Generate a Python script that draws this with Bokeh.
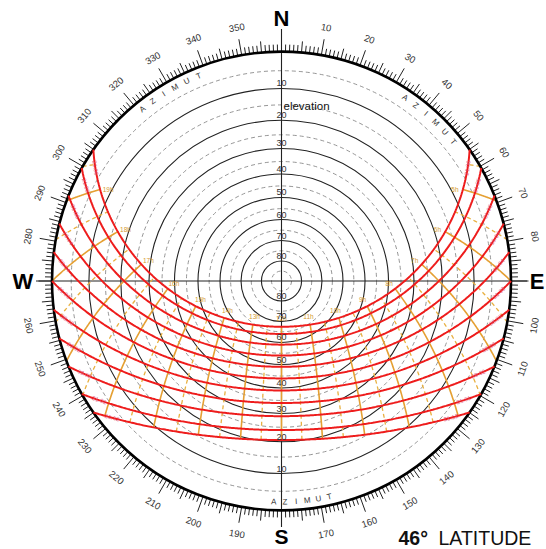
import numpy as np
from bokeh.plotting import figure
from bokeh.models import Range1d
from bokeh.embed import file_html
from bokeh.resources import INLINE
from bokeh.core.properties import value

# ---------------- data ----------------
LATITUDE = 46
declinations = [23.44, 20.0, 15.0, 10.0, 5.0, 0.0, -5.0, -10.0, -15.0, -20.0, -23.44]
date_labels = ["21.06", "21.05", "01.05", "16.04", "03.04", "21.03",
               "08.03", "23.02", "09.02", "21.01", "21.12"]
hours_full = [5, 6, 7, 8, 9, 10, 11, 12, 13, 14, 15, 16, 17, 18, 19]
hours_half = [4.5, 5.5, 6.5, 7.5, 8.5, 9.5, 10.5, 11.5, 12.5, 13.5, 14.5,
              15.5, 16.5, 17.5, 18.5, 19.5]
elev_solid = [10, 20, 30, 40, 50, 60, 70, 80]
elev_dashed = [5, 15, 25, 35, 45, 55, 65, 75, 85]
elev_labels = ["10", "20", "30", "40", "50", "60", "70", "80"]
az_label_values = [a for a in range(10, 360, 10) if a not in (90, 180, 270)]
azimut_word = ["A", "Z", "I", "M", "U", "T"]

# ---------------- geometry ----------------
R = 229.5
phi = np.radians(LATITUDE)
FONT = "Liberation Sans"


def proj(dec_deg, h_deg):
    d = np.radians(dec_deg)
    H = np.radians(h_deg)
    e = -np.cos(d) * np.sin(H)
    n = np.cos(phi) * np.sin(d) - np.sin(phi) * np.cos(d) * np.cos(H)
    u = np.sin(phi) * np.sin(d) + np.cos(phi) * np.cos(d) * np.cos(H)
    return R * e / (1 + u), R * n / (1 + u)


def rad_of_el(el):
    return R * np.tan(np.radians((90 - np.asarray(el, dtype=float)) / 2))


p = figure(width=546, height=549, x_range=Range1d(-281, 265), y_range=Range1d(-268.5, 280.5),
           output_backend="svg", toolbar_location=None, x_axis_type=None, y_axis_type=None,
           min_border=0)
p.grid.visible = False
p.outline_line_color = None
p.background_fill_color = "white"
p.border_fill_color = "white"

# elevation circles
rd = rad_of_el(elev_dashed)
p.circle(x=[0] * len(rd), y=[0] * len(rd), radius=list(rd), fill_color=None,
         line_color="#8a8a8a", line_dash="4 3", line_width=0.9)
rs = rad_of_el(elev_solid)
p.circle(x=[0] * len(rs), y=[0] * len(rs), radius=list(rs), fill_color=None,
         line_color="#222222", line_width=1.1)

# azimuth ticks
x0s, y0s, x1s, y1s = [], [], [], []
for a in range(360):
    L = 16 if a % 10 == 0 else (11 if a % 5 == 0 else 7)
    t = np.radians(a)
    x0s.append(R * np.sin(t)); y0s.append(R * np.cos(t))
    x1s.append((R + L) * np.sin(t)); y1s.append((R + L) * np.cos(t))
p.segment(x0=x0s, y0=y0s, x1=x1s, y1=y1s, line_color="#222222", line_width=1)

# cross axes
p.line([-243, 247], [0, 0], line_color="#222222", line_width=1.1)
p.line([0, 0], [252, -246], line_color="#222222", line_width=1.1)

# hour lines
def hour_line(h):
    H = (h - 12) * 15.0
    dec_h = np.degrees(np.arctan(-np.cos(np.radians(H)) / np.tan(phi)))
    dmin = max(-23.44, dec_h)
    if dmin >= 23.44:
        return None
    ds = np.linspace(dmin, 23.44, 80)
    return proj(ds, H)

for h in hours_half:
    r = hour_line(h)
    if r is not None:
        p.line(list(r[0]), list(r[1]), line_color="#E8B040", line_width=1.3, line_dash="4 3")
for h in hours_full:
    r = hour_line(h)
    if r is not None:
        p.line(list(r[0]), list(r[1]), line_color="#E5A033", line_width=1.6)

# outer horizon circle
p.circle(x=[0], y=[0], radius=[R], fill_color=None, line_color="black", line_width=2.6)

# date lines
for d in declinations:
    Hs = np.degrees(np.arccos(-np.tan(phi) * np.tan(np.radians(d))))
    Hh = np.linspace(-Hs, Hs, 300)
    xs, ys = proj(d, Hh)
    p.line(list(xs), list(ys), line_color="#EE1C1C", line_width=2.0)

# date labels near horizon ends
lx, ly, la, lt = [], [], [], []
for d, lab in zip(declinations, date_labels):
    dr = np.radians(d)
    target = np.sin(np.radians(3.0))
    cH = (target - np.sin(phi) * np.sin(dr)) / (np.cos(phi) * np.cos(dr))
    H3 = np.degrees(np.arccos(cH))
    for sgn in (-1, 1):
        Hc = sgn * H3
        xa, ya = proj(d, Hc - 1)
        xb, yb = proj(d, Hc + 1)
        xc, yc = proj(d, Hc)
        ang = np.arctan2(yb - ya, xb - xa)
        if ang > np.pi / 2:
            ang -= np.pi
        if ang < -np.pi / 2:
            ang += np.pi
        lx.append(float(xc)); ly.append(float(yc)); la.append(float(ang)); lt.append(lab)
p.text(x=lx, y=ly, text=lt, angle=la, text_font=value(FONT), text_font_size="6px",
       text_color="#D8507A", text_align="center", text_baseline="middle", text_alpha=0.85)

# hour labels at the June end, nudged toward the celestial pole
pole_y = R * np.cos(phi) / (1 + np.sin(phi))
hx, hy, ht = [], [], []
for h in hours_full:
    xj, yj = proj(23.44, (h - 12) * 15.0)
    vx, vy = 0 - xj, pole_y - yj
    nrm = np.hypot(vx, vy)
    hx.append(float(xj + 8 * vx / nrm)); hy.append(float(yj + 8 * vy / nrm)); ht.append(f"{h}h")
p.text(x=hx, y=hy, text=ht, text_font=value(FONT), text_font_size="6.5px",
       text_color="#D49A30", text_align="center", text_baseline="middle")

# elevation labels
ex, ey, et = [], [], []
for el, lab in zip(elev_solid, elev_labels):
    r = float(rad_of_el(el))
    ex += [0, 0]; ey += [r + 5, -r + 5]; et += [lab, lab]
p.text(x=ex, y=ey, text=et, text_font=value(FONT), text_font_size="9px",
       text_color="#333333", text_align="center", text_baseline="middle")
p.text(x=[2], y=[175.5], text=["elevation"], text_font=value(FONT), text_font_size="11.5px",
       text_color="#111111", text_align="left", text_baseline="middle")

# azimuth labels
ax_, ay_, aa_, at_ = [], [], [], []
for a in az_label_values:
    t = np.radians(a)
    ax_.append(257 * np.sin(t)); ay_.append(257 * np.cos(t))
    if 90 < a < 270:
        ang = 180 - a
    else:
        ang = -a if a < 90 else 360 - a
    aa_.append(np.radians(ang)); at_.append(str(a))
p.text(x=ax_, y=ay_, text=at_, angle=aa_, text_font=value(FONT), text_font_size="9.5px",
       text_color="#333333", text_align="center", text_baseline="middle")

# AZIMUT words along the inner rim
wx, wy, wa, wt = [], [], [], []
for start, step, bottom in ((321.0, 3.4, False), (34.0, 3.4, False), (182.0, -2.9, True)):
    for i, ch in enumerate(azimut_word):
        a = start + i * step
        t = np.radians(a)
        wx.append(221 * np.sin(t)); wy.append(221 * np.cos(t))
        wa.append(np.radians(180 - a if bottom else -a)); wt.append(ch)
p.text(x=wx, y=wy, text=wt, angle=wa, text_font=value(FONT), text_font_size="8px",
       text_color="#333333", text_align="center", text_baseline="middle")

# cardinal letters
p.text(x=[0, -258.5, 255.5], y=[262.5, 0, 0], text=["N", "W", "E"],
       text_font=value(FONT), text_font_size="22px", text_font_style="bold",
       text_color="black", text_align="center", text_baseline="middle")
p.text(x=[0], y=[-255.5], text=["S"],
       text_font=value(FONT), text_font_size="21px", text_font_style="bold",
       text_color="black", text_align="center", text_baseline="middle")

# latitude caption
p.text(x=[117], y=[-256.5], text=["46°"], text_font=value(FONT), text_font_size="19.5px",
       text_font_style="bold", text_color="#111111", text_align="left", text_baseline="middle")
p.text(x=[157], y=[-256.5], text=["LATITUDE"], text_font=value(FONT), text_font_size="19.5px",
       text_color="#111111", text_align="left", text_baseline="middle")

open("out.html", "w").write(file_html(p, INLINE))
